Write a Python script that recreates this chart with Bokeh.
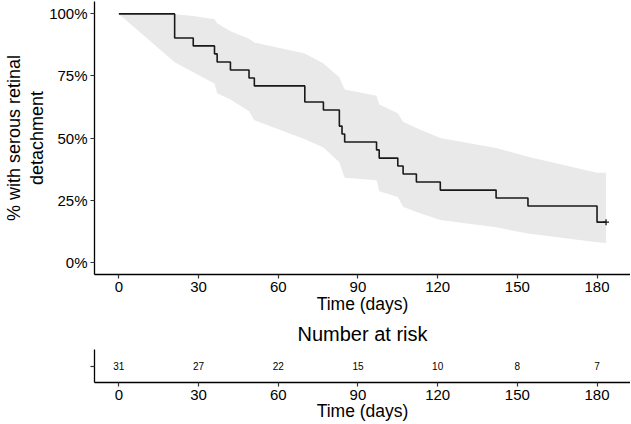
from bokeh.plotting import figure
from bokeh.layouts import column
from bokeh.models import Range1d, FixedTicker, ColumnDataSource
from bokeh.embed import file_html
from bokeh.resources import INLINE

# ---------------- data ----------------
time_days = [0, 21, 28, 36, 37, 42, 49, 51, 70, 77, 83, 84, 85, 97, 98,
             105, 107, 112, 121, 142, 154, 180, 183.4]
surv_pct = [100, 90.3, 87.1, 83.9, 80.6, 77.4, 74.2, 71.0, 64.5, 61.3, 54.8,
            51.6, 48.4, 45.2, 41.9, 38.7, 35.5, 32.3, 29.0, 25.8, 22.6, 16.1, 16.1]
ci_lower = [100, 80.5, 76.5, 72.0, 68.0, 65.5, 60.8, 57.2, 49.5, 46.2, 40.2,
            37.0, 34.0, 33.0, 28.5, 26.2, 22.3, 20.2, 17.0, 14.0, 11.5, 8.0, 7.7]
ci_upper = [100, 99.9, 99.2, 97.8, 96.2, 93.0, 90.0, 88.5, 84.0, 80.0, 74.5,
            72.0, 69.5, 67.0, 63.5, 60.0, 56.5, 54.0, 50.0, 46.0, 42.4, 36.0, 36.0]
censor_time = [183.4]
censor_pct = [16.1]

risk_times = [0, 30, 60, 90, 120, 150, 180]
risk_counts = [31, 27, 22, 15, 10, 8, 7]

x_ticks = [0, 30, 60, 90, 120, 150, 180]
y_ticks = [0, 25, 50, 75, 100]
y_tick_labels = ["0%", "25%", "50%", "75%", "100%"]

FONT = "Liberation Sans"
TXT = "#000000"
LEFT = 94
W = 630

x_rng = Range1d(-9.17, 192.6)


def style_axes(p):
    p.xgrid.visible = False
    p.ygrid.visible = False
    p.outline_line_color = None
    p.background_fill_color = "white"
    p.border_fill_color = "white"
    for ax in (p.xaxis[0], p.yaxis[0]):
        ax.axis_line_color = "#000000"
        ax.axis_line_width = 1.3
        ax.major_tick_line_color = "#333333"
        ax.major_tick_line_width = 1.2
        ax.major_tick_out = 4
        ax.major_tick_in = 0
        ax.minor_tick_line_color = None
        ax.major_label_text_font = FONT
        ax.major_label_text_font_size = "15px"
        ax.major_label_text_color = TXT
        ax.major_label_standoff = 3
        ax.axis_label_text_font = FONT
        ax.axis_label_text_font_size = "17.5px"
        ax.axis_label_text_font_style = "normal"
        ax.axis_label_text_color = TXT


# ---------------- main survival plot ----------------
p = figure(width=W, height=316, x_range=x_rng, y_range=Range1d(-5, 105),
           output_backend="svg", toolbar_location=None,
           min_border_left=LEFT, min_border_right=0, min_border_top=1,
           min_border_bottom=0)
style_axes(p)

src = ColumnDataSource(dict(t=time_days, s=surv_pct, lo=ci_lower, hi=ci_upper))
p.varea(x="t", y1="lo", y2="hi", source=src, fill_color="#e9e9e9")
p.step(x="t", y="s", source=src, mode="after", line_color="#1a1a1a", line_width=1.6)
p.scatter(x=censor_time, y=censor_pct, marker="cross", size=6,
          line_color="#1a1a1a", line_width=1.3)

p.xaxis.ticker = FixedTicker(ticks=x_ticks)
p.yaxis.ticker = FixedTicker(ticks=y_ticks)
p.yaxis.major_label_overrides = {t: l for t, l in zip(y_ticks, y_tick_labels)}
p.xaxis.axis_label = "Time (days)"
p.xaxis.axis_label_standoff = -1
p.yaxis.axis_label = "% with serous retinal\ndetachment"
p.yaxis.axis_label_text_font_size = "18px"
p.yaxis.axis_label_text_line_height = 1.15
p.yaxis.axis_label_standoff = -1

# ---------------- risk table ----------------
r = figure(width=W, height=107, x_range=x_rng, y_range=Range1d(-1, 1),
           output_backend="svg", toolbar_location=None,
           min_border_left=LEFT, min_border_right=0, min_border_top=2,
           min_border_bottom=0, title="Number at risk")
style_axes(r)
r.title.text_font = FONT
r.title.text_font_size = "20px"
r.title.text_font_style = "normal"
r.title.text_color = TXT
r.title.align = "center"
r.title.standoff = 9

r.text(x=risk_times, y=[0] * len(risk_times), text=[str(n) for n in risk_counts],
       text_align="center", text_baseline="middle", text_font_size="10px",
       text_color="#000000", text_font={"value": FONT})
r.xaxis.ticker = FixedTicker(ticks=x_ticks)
r.yaxis.ticker = FixedTicker(ticks=[0])
r.yaxis.major_label_overrides = {0: ""}
r.xaxis.axis_label = "Time (days)"
r.xaxis.axis_label_standoff = -2

layout = column(p, r, spacing=0)
open("out.html", "w").write(file_html(layout, INLINE))
